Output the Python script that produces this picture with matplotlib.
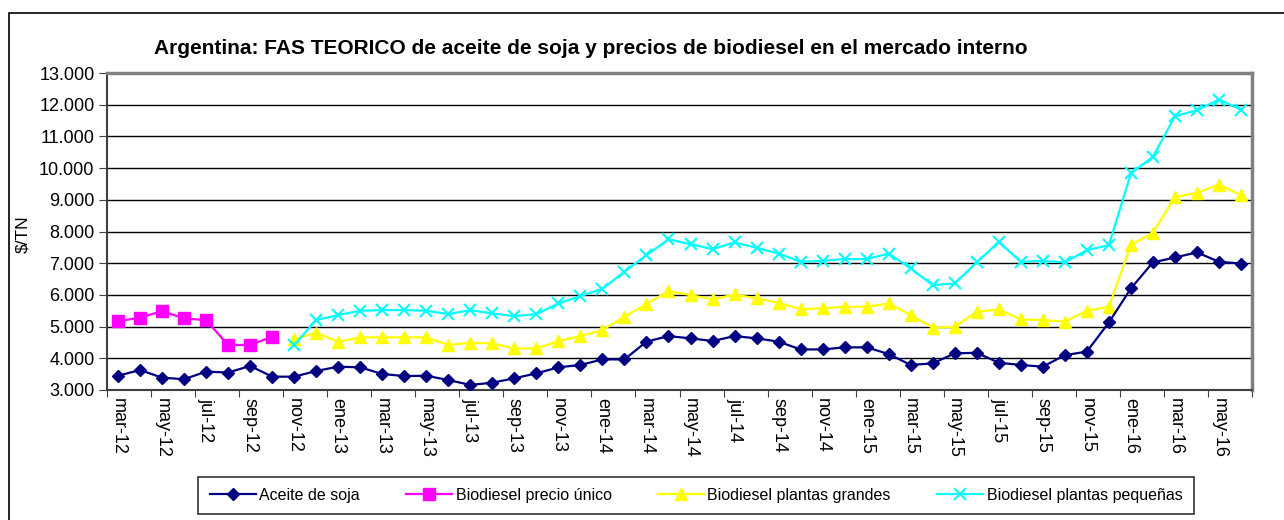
import numpy as np
import matplotlib
matplotlib.use("Agg")
import matplotlib.pyplot as plt
from matplotlib.ticker import FuncFormatter, FixedLocator
from matplotlib.patches import Rectangle

nan = np.nan

# months mar-12 .. jun-16
meses = ['mar-12', 'abr-12', 'may-12', 'jun-12', 'jul-12', 'ago-12', 'sep-12', 'oct-12', 'nov-12', 'dic-12',
         'ene-13', 'feb-13', 'mar-13', 'abr-13', 'may-13', 'jun-13', 'jul-13', 'ago-13', 'sep-13', 'oct-13', 'nov-13', 'dic-13',
         'ene-14', 'feb-14', 'mar-14', 'abr-14', 'may-14', 'jun-14', 'jul-14', 'ago-14', 'sep-14', 'oct-14', 'nov-14', 'dic-14',
         'ene-15', 'feb-15', 'mar-15', 'abr-15', 'may-15', 'jun-15', 'jul-15', 'ago-15', 'sep-15', 'oct-15', 'nov-15', 'dic-15',
         'ene-16', 'feb-16', 'mar-16', 'abr-16', 'may-16', 'jun-16']

aceite_soja = [3450, 3630, 3390, 3340, 3580, 3550, 3760, 3420, 3420, 3600,
               3735, 3715, 3505, 3440, 3450, 3315, 3160, 3230, 3370, 3525, 3715, 3790,
               3965, 3965, 4525, 4700, 4630, 4545, 4700, 4630, 4525, 4280, 4280, 4345,
               4345, 4135, 3790, 3840, 4155, 4175, 3860, 3790, 3735, 4100, 4210, 5130,
               6205, 7025, 7180, 7340, 7045, 6990]

precio_unico = [5175, 5280, 5490, 5260, 5205, 4420, 4420, 4680, nan, nan,
                nan, nan, nan, nan, nan, nan, nan, nan, nan, nan, nan, nan,
                nan, nan, nan, nan, nan, nan, nan, nan, nan, nan, nan, nan,
                nan, nan, nan, nan, nan, nan, nan, nan, nan, nan, nan, nan,
                nan, nan, nan, nan, nan, nan]

plantas_grandes = [nan, nan, nan, nan, nan, nan, nan, nan, 4600, 4805,
                   4520, 4660, 4660, 4660, 4660, 4420, 4490, 4470, 4310, 4310, 4545, 4700,
                   4890, 5310, 5710, 6120, 5995, 5855, 6015, 5890, 5750, 5550, 5575, 5625,
                   5625, 5730, 5365, 4965, 4995, 5470, 5540, 5225, 5205, 5155, 5500, 5625,
                   7570, 7960, 9090, 9220, 9480, 9145]

plantas_pequenas = [nan, nan, nan, nan, nan, nan, nan, nan, 4420, 5205,
                    5365, 5500, 5520, 5520, 5500, 5395, 5520, 5415, 5330, 5395, 5730, 5960,
                    6195, 6730, 7255, 7750, 7600, 7445, 7655, 7485, 7305, 7045, 7075, 7130,
                    7130, 7305, 6835, 6310, 6360, 7025, 7675, 7045, 7075, 7025, 7410, 7570,
                    9830, 10355, 11635, 11825, 12160, 11845]


def main():
    plt.rcParams['font.family'] = ['Liberation Sans', 'DejaVu Sans']

    fig = plt.figure(figsize=(12.84, 5.2), dpi=100)
    ax = fig.add_axes([107/1284, 130/520, (1252-107)/1284, (390-73)/520])

    # outer chart border (only left and top visible)
    fig.patches.append(Rectangle((9/1284, -0.1), 1.2, (520-13)/520 + 0.1, transform=fig.transFigure,
                                 fill=False, edgecolor='black', linewidth=1.2))

    x = np.arange(len(meses))
    ax.plot(x, aceite_soja, color='#000080', marker='D', markersize=6.5, linewidth=1.6,
            label='Aceite de soja', zorder=5)
    ax.plot(x, precio_unico, color='#FF00FF', marker='s', markersize=8, linewidth=1.6,
            label='Biodiesel precio único', zorder=5)
    ax.plot(x, plantas_grandes, color='#FFFF00', marker='^', markersize=9, linewidth=1.6,
            label='Biodiesel plantas grandes', zorder=4)
    ax.plot(x, plantas_pequenas, color='#00FFFF', marker='x', markersize=9, markeredgewidth=1.5,
            linewidth=1.6, label='Biodiesel plantas pequeñas', zorder=4)

    ax.set_xlim(-0.5, len(meses) - 0.5)
    ax.set_ylim(3000, 13000)
    ax.set_yticks(np.arange(3000, 13001, 1000))
    ax.yaxis.set_major_formatter(FuncFormatter(lambda v, p: f"{int(v):,}".replace(",", ".")))
    ax.grid(True, axis='y', color='black', linewidth=1)
    ax.set_axisbelow(True)

    # ticks on category boundaries, labels on every other month
    ax.xaxis.set_major_locator(FixedLocator(np.arange(-0.5, len(meses), 2)))
    ax.xaxis.set_major_formatter(FuncFormatter(lambda v, p: ''))
    ax.xaxis.set_minor_locator(FixedLocator(x[::2]))
    ax.set_xticklabels(meses[::2], minor=True, rotation=-90, fontsize=13)
    ax.tick_params(axis='x', which='minor', length=0, pad=6)
    ax.tick_params(axis='x', which='major', length=5, direction='out', color='#404040')
    ax.tick_params(axis='y', length=6, direction='out', labelsize=13, pad=3, color='#404040')

    for side in ['top', 'right']:
        ax.spines[side].set_color('#808080')
        ax.spines[side].set_linewidth(2.5)
    for side in ['left', 'bottom']:
        ax.spines[side].set_color('#404040')
        ax.spines[side].set_linewidth(1.5)

    ax.set_ylabel("\\$/TN", fontsize=12.5)
    ax.yaxis.set_label_coords((30 - 107) / 1145, (390 - 234) / 317)

    fig.text(154/1284, (520-48)/520, "Argentina: FAS TEORICO de aceite de soja y precios de biodiesel en el mercado interno",
             fontsize=15, fontweight='bold', ha='left', va='center')

    leg = fig.legend(loc='center', bbox_to_anchor=(696/1284, (520-495.5)/520), ncol=4,
                     fontsize=11.5, frameon=True, fancybox=False, edgecolor='black',
                     handlelength=2.9, handletextpad=0.2, columnspacing=2.9, borderpad=0.7)
    leg.get_frame().set_linewidth(1.2)

    fig.savefig('out.png', dpi=100)


if __name__ == '__main__':
    main()
